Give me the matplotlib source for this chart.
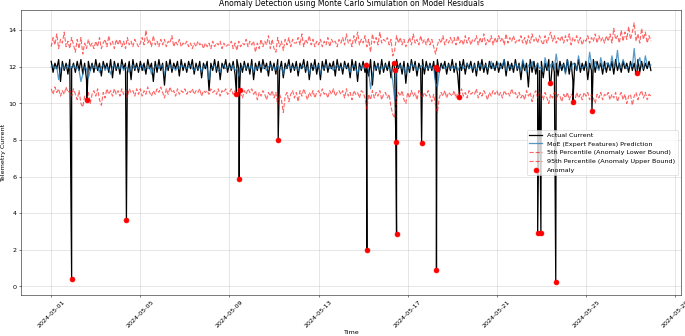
import numpy as np
import pandas as pd
from matplotlib import pyplot as plt

start = "2024-05-01 00:00"

# all series 2-hourly (12 per day), 2024-05-01 .. 2024-05-27
actual = [
    12.3, 11.7, 12.2, 11.9, 12.4, 11.2, 12.3, 11.8, 12.2, 11.6, 12.4, 11.9,
    12.2, 11.7, 12.3, 11.8, 12.4, 11.6, 12.2, 11.3, 12.3, 11.8, 12.2, 11.7,
    12.4, 11.8, 12.2, 11.5, 12.3, 11.9, 12.2, 11.7, 12.4, 11.4, 12.3, 11.8,
    12.2, 11.6, 12.4, 11.9, 12.2, 11.7, 12.3, 11.3, 12.4, 11.8, 12.2, 11.7,
    12.3, 11.8, 12.2, 11.6, 12.4, 11.9, 12.2, 11.2, 12.3, 11.7, 12.4, 11.8,
    12.2, 11.0, 12.3, 11.8, 12.4, 11.7, 12.2, 11.9, 12.3, 11.5, 12.4, 11.8,
    12.2, 11.7, 12.3, 11.9, 12.4, 11.6, 12.2, 11.8, 12.3, 11.4, 12.2, 11.9,
    12.3, 10.7, 12.2, 11.8, 12.4, 11.7, 12.3, 11.3, 12.2, 11.9, 12.4, 11.7,
    12.2, 11.8, 12.3, 11.6, 12.4, 11.9, 12.2, 11.7, 12.3, 11.8, 12.2, 11.6,
    12.4, 11.3, 12.2, 11.8, 12.3, 11.7, 12.4, 11.9, 12.2, 11.5, 12.3, 11.8,
    12.2, 11.6, 12.4, 11.8, 12.3, 11.4, 12.2, 11.9, 12.4, 11.7, 12.2, 11.8,
    12.3, 11.5, 12.2, 11.9, 12.4, 11.7, 12.3, 11.3, 12.2, 11.8, 12.4, 11.6,
    12.2, 11.3, 12.3, 11.8, 12.4, 11.7, 12.2, 11.9, 12.3, 11.5, 12.4, 11.8,
    12.2, 11.6, 12.3, 11.9, 12.2, 11.4, 12.4, 11.8, 12.3, 11.2, 12.2, 11.8,
    12.3, 11.7, 12.2, 11.5, 12.4, 11.0, 12.3, 11.8, 12.2, 11.6, 12.4, 11.7,
    12.2, 11.8, 12.3, 11.4, 12.2, 11.7, 12.4, 11.9, 12.2, 11.6, 12.3, 11.1,
    12.2, 11.7, 12.4, 11.8, 12.3, 11.5, 12.2, 11.9, 12.4, 11.6, 12.3, 11.8,
    12.2, 11.8, 12.3, 11.3, 12.4, 11.7, 12.2, 11.9, 12.3, 11.6, 12.2, 11.8,
    12.4, 11.7, 12.2, 11.5, 12.3, 11.8, 12.4, 11.6, 12.2, 11.9, 12.3, 11.7,
    12.2, 11.5, 12.3, 11.8, 12.4, 11.7, 12.2, 11.6, 12.3, 11.9, 12.2, 11.8,
    12.3, 11.7, 12.2, 11.9, 12.4, 11.5, 12.3, 11.8, 12.2, 11.7, 12.4, 11.8,
    12.2, 11.3, 12.3, 11.8, 12.2, 10.9, 12.4, 11.7, 12.3, 11.6, 12.2, 11.8,
    12.3, 11.4, 12.2, 11.8, 12.4, 11.0, 12.3, 11.7, 12.2, 11.5, 12.3, 11.8,
    12.2, 11.7, 12.4, 11.6, 12.3, 11.2, 12.2, 11.8, 12.4, 11.7, 12.2, 11.8,
    12.3, 11.3, 12.2, 11.8, 12.4, 11.7, 12.3, 11.9, 12.2, 11.6, 12.3, 11.7,
    12.2, 11.8, 12.3, 11.6, 12.4, 11.8, 12.2, 11.7, 12.3, 11.9, 12.2, 11.7,
    12.3, 11.8, 12.2, 11.6, 12.4, 11.7, 12.3, 11.8, 12.2, 11.9, 12.3, 11.8,
]

prediction = [
    12.0, 12.1, 11.9, 12.0, 11.3, 11.9, 12.1, 11.9, 12.0, 12.1, 11.9, 12.0,
    12.1, 11.9, 12.0, 11.8, 11.2, 11.6, 12.0, 11.9, 11.4, 11.8, 12.1, 12.0,
    11.9, 12.0, 11.7, 12.0, 12.1, 11.8, 12.0, 11.9, 11.6, 12.0, 12.1, 11.9,
    12.0, 11.9, 12.1, 11.8, 12.0, 11.9, 11.7, 12.0, 12.1, 11.9, 12.0, 11.9,
    12.0, 12.1, 11.8, 12.0, 11.9, 12.0, 11.6, 11.9, 12.0, 12.1, 11.9, 12.0,
    12.1, 11.6, 11.9, 12.0, 12.1, 11.9, 12.0, 11.8, 12.0, 11.9, 12.1, 12.0,
    12.0, 11.9, 12.0, 12.1, 11.9, 11.8, 12.0, 11.9, 12.0, 11.7, 12.0, 12.1,
    11.9, 11.3, 11.9, 12.0, 12.1, 11.9, 11.8, 11.7, 12.0, 12.1, 11.9, 12.0,
    12.0, 11.9, 12.1, 11.8, 11.9, 11.5, 11.9, 12.0, 12.1, 11.9, 12.0, 11.9,
    12.1, 11.7, 12.0, 11.9, 12.0, 12.1, 11.9, 12.0, 11.8, 12.0, 12.1, 11.9,
    12.0, 11.8, 12.1, 11.9, 12.0, 11.6, 11.9, 12.0, 12.1, 11.9, 12.0, 11.9,
    12.0, 11.8, 11.9, 12.1, 12.0, 11.9, 12.0, 11.6, 12.0, 12.1, 11.9, 12.0,
    12.1, 11.6, 12.0, 11.9, 12.1, 12.0, 11.9, 12.0, 11.8, 12.0, 12.1, 11.9,
    12.0, 11.9, 12.1, 12.0, 11.9, 11.7, 12.0, 12.1, 11.9, 11.6, 12.0, 11.9,
    12.1, 11.9, 12.0, 11.8, 10.8, 11.5, 12.0, 11.9, 12.1, 11.8, 12.0, 11.9,
    12.1, 12.0, 11.9, 11.8, 11.2, 10.2, 11.8, 12.0, 12.1, 11.9, 12.0, 11.6,
    12.0, 11.9, 12.2, 12.0, 12.1, 11.8, 11.9, 12.0, 12.1, 11.9, 12.0, 11.9,
    12.1, 11.9, 12.0, 11.1, 10.9, 11.7, 12.0, 12.1, 11.9, 12.0, 12.1, 11.9,
    12.0, 11.9, 12.1, 11.8, 12.0, 12.1, 11.9, 12.0, 12.2, 11.9, 12.0, 11.9,
    12.1, 11.8, 12.0, 12.2, 11.9, 12.0, 12.1, 11.9, 12.0, 12.3, 11.9, 12.0,
    12.0, 12.2, 11.9, 12.1, 12.4, 11.8, 12.0, 12.1, 11.9, 12.0, 12.2, 11.9,
    12.1, 11.8, 12.4, 12.0, 11.7, 12.1, 12.0, 12.3, 11.9, 12.0, 12.2, 11.9,
    12.0, 11.7, 12.5, 12.0, 11.8, 12.1, 12.2, 11.9, 12.7, 12.0, 11.9, 12.1,
    12.1, 11.6, 12.4, 12.0, 11.9, 12.2, 12.1, 11.8, 12.6, 12.0, 11.9, 12.1,
    12.0, 11.9, 12.8, 12.1, 11.9, 12.3, 12.0, 11.8, 12.5, 12.0, 11.9, 12.2,
    12.2, 11.9, 12.6, 12.0, 12.1, 12.9, 11.9, 12.0, 12.4, 12.1, 11.9, 12.0,
    12.1, 12.0, 13.0, 11.9, 12.2, 12.5, 12.0, 11.9, 12.6, 12.1, 12.0, 12.1,
]

# monte carlo percentile bounds
upper = [
    13.1, 13.6, 13.2, 13.8, 13.0, 13.5, 13.3, 13.9, 13.1, 13.4, 13.0, 13.6,
    13.2, 12.8, 13.5, 13.0, 13.6, 12.7, 13.3, 13.0, 13.5, 13.1, 13.3, 13.0,
    13.4, 13.1, 13.6, 13.0, 13.3, 13.5, 13.1, 13.7, 13.2, 13.4, 13.0, 13.5,
    13.2, 13.5, 13.1, 13.4, 13.0, 13.6, 13.2, 13.4, 13.1, 13.5, 13.3, 13.1,
    13.3, 13.6, 13.2, 14.0, 13.3, 13.5, 13.1, 13.7, 13.2, 13.4, 13.1, 13.5,
    13.2, 13.5, 13.1, 13.4, 13.3, 13.7, 13.1, 13.4, 13.2, 13.5, 13.1, 13.3,
    13.2, 13.4, 13.1, 13.3, 13.0, 13.3, 13.1, 13.4, 13.2, 13.3, 13.0, 13.3,
    13.1, 13.3, 13.0, 13.4, 13.1, 13.3, 13.2, 13.4, 13.0, 13.3, 13.1, 13.2,
    13.2, 13.4, 13.0, 13.3, 12.9, 13.4, 13.1, 13.3, 13.2, 13.5, 13.1, 13.4,
    13.2, 13.4, 12.8, 13.3, 13.0, 13.5, 13.1, 13.4, 13.2, 13.7, 13.0, 13.5,
    13.0, 12.8, 13.6, 13.1, 13.4, 12.9, 13.5, 13.2, 13.6, 13.1, 13.5, 13.3,
    13.3, 13.6, 13.2, 13.8, 13.1, 13.5, 13.3, 13.7, 13.2, 13.5, 13.1, 13.4,
    13.2, 13.5, 13.1, 13.4, 13.2, 13.6, 13.1, 13.5, 13.3, 13.4, 13.1, 13.5,
    13.3, 13.6, 13.2, 13.8, 13.3, 13.5, 13.1, 13.7, 13.3, 13.9, 13.2, 13.5,
    13.3, 13.7, 13.1, 13.5, 12.8, 13.8, 13.3, 13.6, 13.2, 13.9, 13.3, 13.5,
    13.4, 13.6, 13.2, 13.5, 12.6, 12.9, 13.7, 13.3, 13.6, 13.2, 13.5, 13.1,
    13.3, 13.6, 13.2, 13.8, 13.3, 13.5, 13.2, 13.7, 13.3, 13.5, 13.2, 13.6,
    13.2, 13.5, 13.1, 12.7, 13.2, 13.5, 13.3, 13.7, 13.2, 13.5, 13.3, 13.6,
    13.3, 13.6, 13.2, 13.7, 13.3, 13.5, 13.2, 13.7, 13.3, 13.6, 13.2, 13.5,
    13.4, 13.7, 13.2, 13.6, 13.3, 13.8, 13.2, 13.5, 13.3, 13.7, 13.2, 13.6,
    13.3, 13.7, 13.4, 13.6, 13.2, 13.8, 13.3, 13.6, 13.4, 13.7, 13.3, 13.5,
    13.4, 13.7, 13.3, 13.6, 13.2, 13.7, 13.3, 13.8, 13.4, 13.6, 13.3, 13.7,
    13.4, 13.2, 13.7, 13.3, 13.6, 13.9, 13.4, 13.7, 13.3, 13.6, 13.4, 13.7,
    13.3, 13.7, 13.4, 13.8, 13.2, 13.6, 13.4, 13.7, 13.3, 13.6, 13.2, 13.5,
    13.4, 13.7, 13.3, 13.6, 13.4, 13.8, 13.3, 13.7, 13.4, 13.6, 13.3, 13.7,
    13.4, 13.8, 13.3, 14.1, 13.5, 13.7, 13.3, 14.0, 13.4, 13.9, 13.5, 14.2,
    13.5, 13.9, 14.4, 13.4, 13.8, 13.3, 14.1, 13.5, 13.9, 13.3, 13.7, 13.4,
]

lower = [
    10.8, 10.5, 10.9, 10.6, 10.8, 10.4, 10.7, 10.5, 10.9, 10.6, 10.7, 10.4,
    10.8, 10.5, 10.2, 10.7, 10.0, 9.8, 10.4, 10.1, 10.6, 10.0, 10.5, 10.7,
    10.4, 10.8, 10.2, 9.9, 10.6, 10.3, 10.8, 10.5, 10.7, 10.4, 10.8, 10.5,
    10.7, 10.4, 10.8, 10.5, 10.7, 10.3, 10.8, 10.6, 10.7, 10.4, 10.8, 10.5,
    10.8, 10.4, 10.7, 10.5, 10.9, 10.6, 10.4, 10.7, 10.5, 10.8, 10.6, 10.9,
    10.6, 10.3, 10.8, 10.5, 10.9, 10.6, 10.7, 10.4, 10.8, 10.5, 10.7, 10.6,
    10.8, 10.5, 10.7, 10.6, 10.8, 10.5, 10.7, 10.6, 10.8, 10.4, 10.7, 10.6,
    10.7, 10.5, 10.8, 10.6, 10.7, 10.5, 10.8, 10.4, 10.7, 10.6, 10.8, 10.5,
    10.6, 10.8, 10.5, 10.7, 10.4, 10.8, 10.5, 10.3, 10.7, 10.5, 10.8, 10.6,
    10.8, 10.5, 10.7, 10.2, 10.6, 10.4, 10.7, 10.5, 10.2, 10.6, 10.4, 10.7,
    10.3, 10.6, 9.9, 10.5, 10.2, 9.5, 10.4, 10.6, 10.1, 10.5, 10.7, 10.3,
    10.6, 10.1, 10.7, 10.4, 10.8, 10.5, 10.2, 10.6, 10.4, 10.7, 10.3, 10.6,
    10.7, 10.4, 10.8, 10.5, 10.6, 10.3, 10.7, 10.5, 10.8, 10.4, 10.6, 10.7,
    10.5, 10.7, 10.3, 10.8, 10.4, 10.6, 10.2, 10.7, 10.5, 10.6, 10.3, 10.7,
    10.6, 10.3, 9.7, 10.5, 10.2, 10.7, 10.3, 10.6, 10.4, 10.7, 10.2, 10.5,
    10.6, 10.3, 10.5, 9.8, 9.4, 9.2, 10.3, 10.6, 10.4, 10.7, 10.2, 10.0,
    10.6, 10.3, 10.7, 10.4, 10.6, 10.2, 10.7, 10.5, 10.3, 10.6, 10.4, 10.7,
    10.4, 10.1, 10.5, 9.9, 9.5, 10.3, 10.6, 10.4, 10.7, 10.3, 10.6, 10.5,
    10.4, 10.7, 10.3, 10.6, 10.5, 10.8, 10.4, 10.6, 10.3, 10.7, 10.5, 10.6,
    10.5, 10.8, 10.3, 10.6, 10.4, 10.7, 10.5, 10.2, 10.6, 10.4, 10.7, 10.5,
    10.7, 10.4, 10.6, 10.3, 10.7, 10.5, 10.6, 10.4, 10.8, 10.5, 10.6, 10.3,
    10.6, 10.3, 10.5, 10.2, 10.7, 10.4, 10.6, 10.1, 10.5, 10.7, 10.3, 10.6,
    10.5, 10.2, 10.6, 10.3, 10.0, 10.5, 10.3, 10.6, 10.2, 10.5, 10.4, 10.1,
    10.5, 10.3, 10.6, 10.2, 10.5, 10.4, 10.1, 10.6, 10.3, 10.5, 10.2, 10.6,
    10.4, 10.6, 10.2, 10.5, 10.3, 10.0, 10.5, 10.3, 10.6, 10.2, 10.5, 10.4,
    10.6, 10.2, 10.5, 10.3, 10.6, 10.1, 10.4, 10.6, 10.2, 10.5, 10.0, 10.4,
    10.5, 9.9, 10.4, 10.6, 10.2, 10.5, 10.7, 10.3, 10.6, 10.2, 10.5, 10.4,
]

anomaly_times = [
    "2024-05-01 22:00", "2024-05-02 14:30", "2024-05-04 09:00",
    "2024-05-09 07:30", "2024-05-09 10:30", "2024-05-09 11:00",
    "2024-05-11 04:30", "2024-05-15 03:30", "2024-05-15 04:00",
    "2024-05-16 09:00", "2024-05-16 10:00", "2024-05-16 11:15",
    "2024-05-16 12:00", "2024-05-17 15:00", "2024-05-18 06:30",
    "2024-05-18 07:00", "2024-05-18 07:30", "2024-05-19 07:45",
    "2024-05-22 20:00", "2024-05-22 23:30", "2024-05-23 09:00",
    "2024-05-23 15:30", "2024-05-24 10:00", "2024-05-25 06:30",
    "2024-05-27 07:00",
]
anomaly_values = [
    0.42, 10.2, 3.62,
    10.53, 5.85, 10.73,
    8.02, 12.1, 1.97,
    12.2, 11.85, 7.9,
    2.86, 7.85, 12.0,
    0.89, 11.9, 10.37,
    2.9, 2.9, 11.1,
    0.24, 10.07, 9.6,
    11.64,
]

t = pd.date_range(start, periods=len(actual), freq="2h")
an_t = pd.to_datetime(anomaly_times)

# the anomalous readings are part of the actual current trace
act = pd.concat([pd.Series(actual, index=t),
                 pd.Series(anomaly_values, index=an_t)]).sort_index()

fig = plt.figure(figsize=(15, 7.36))
ax = fig.add_subplot(111)
ax.plot(act.index, act.values, color='black', lw=2, label='Actual Current')
ax.plot(t, prediction, color='#1f77b4', lw=2, alpha=0.75,
        label='MoE (Expert Features) Prediction')
ax.plot(t, lower, color='red', ls='--', lw=1.8, alpha=0.6,
        label='5th Percentile (Anomaly Lower Bound)')
ax.plot(t, upper, color='red', ls='--', lw=1.8, alpha=0.6,
        label='95th Percentile (Anomaly Upper Bound)')
ax.scatter(an_t, anomaly_values, color='red', s=60, zorder=5, label='Anomaly')

ax.set_title('Anomaly Detection using Monte Carlo Simulation on Model Residuals')
ax.set_xlabel('Time', labelpad=1)
ax.set_ylabel('Telemetry Current')
ax.legend(loc='center right')
ax.grid(True, alpha=0.6)
plt.xticks(rotation=45)
fig.subplots_adjust(left=0.031, right=0.994, bottom=0.122, top=0.97)
fig.savefig('out.png', dpi=685 / 15)
